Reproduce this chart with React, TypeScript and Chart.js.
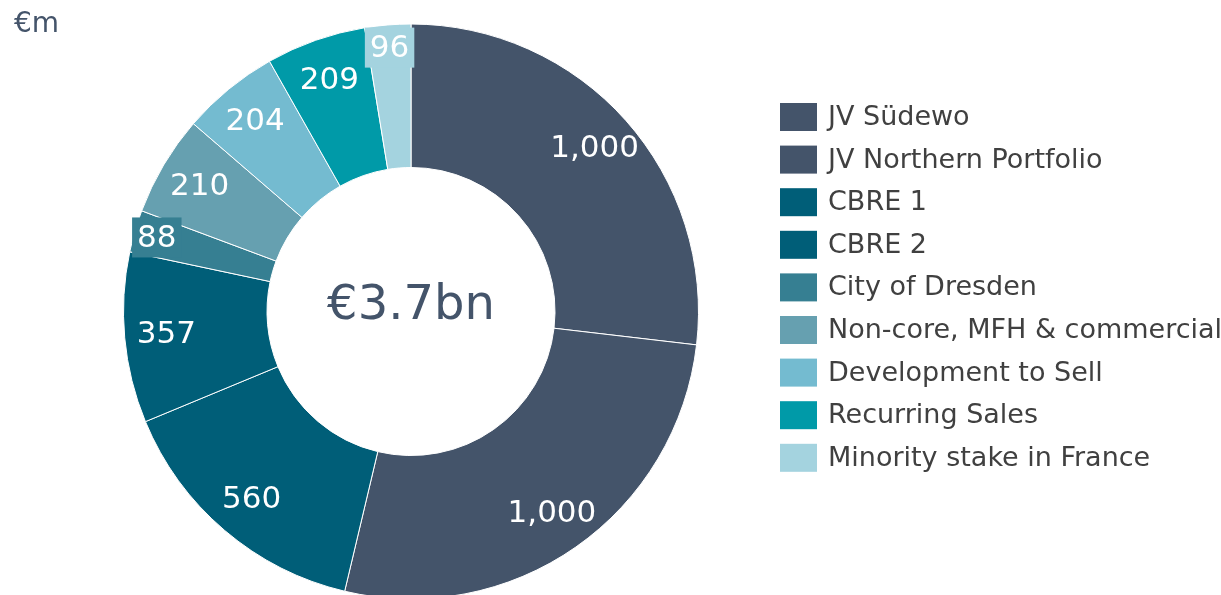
import React, { useEffect, useRef } from "react";
import { Chart, registerables } from "chart.js";

Chart.register(...registerables);

const categories = [
  "JV Südewo",
  "JV Northern Portfolio",
  "CBRE 1",
  "CBRE 2",
  "City of Dresden",
  "Non-core, MFH & commercial",
  "Development to Sell",
  "Recurring Sales",
  "Minority stake in France",
];
const values = [1000, 1000, 560, 357, 88, 210, 204, 209, 96];
const colors = [
  "#44546A",
  "#44546A",
  "#005E78",
  "#005E78",
  "#367F92",
  "#66A0B0",
  "#74BBD0",
  "#009AA8",
  "#A4D3DF",
];
const centerLabel = "€3.7bn";
const unitLabel = "€m";

const FONT = '"DejaVu Sans", Verdana, sans-serif';

const fmt = (v: number) => v.toLocaleString("en-US");

const overlayPlugin = {
  id: "overlay",
  afterDatasetsDraw(chart: any) {
    const ctx = chart.ctx;
    const meta = chart.getDatasetMeta(0);
    ctx.save();
    // slice labels
    meta.data.forEach((arc: any, i: number) => {
      const { startAngle, endAngle, innerRadius, outerRadius, x, y } = arc.getProps(
        ["startAngle", "endAngle", "innerRadius", "outerRadius", "x", "y"],
        true
      );
      const mid = (startAngle + endAngle) / 2;
      const small = values[i] < 100;
      const r = small ? (innerRadius + outerRadius) / 2 + 49 : (innerRadius + outerRadius) / 2 + 30;
      const lx = x + Math.cos(mid) * r;
      const ly = y + Math.sin(mid) * r;
      const text = fmt(values[i]);
      ctx.font = `31px ${FONT}`;
      ctx.textAlign = "center";
      ctx.textBaseline = "middle";
      if (small) {
        const w = ctx.measureText(text).width + 10;
        const h = 40;
        ctx.fillStyle = colors[i];
        ctx.fillRect(lx - w / 2, ly - h / 2, w, h);
      }
      ctx.fillStyle = "#FFFFFF";
      ctx.fillText(text, lx, ly + 1);
    });
    // center text
    const cx = (chart.chartArea.left + chart.chartArea.right) / 2;
    const cy = (chart.chartArea.top + chart.chartArea.bottom) / 2;
    ctx.font = `48px ${FONT}`;
    ctx.fillStyle = "#44546A";
    ctx.textAlign = "center";
    ctx.textBaseline = "middle";
    ctx.fillText(centerLabel, cx, cy - 5);
    // unit label
    ctx.font = `28px ${FONT}`;
    ctx.textAlign = "left";
    ctx.textBaseline = "alphabetic";
    ctx.fillText(unitLabel, 14, 32);
    // legend
    const lx0 = 780;
    const ly0 = 117;
    const step = 42.6;
    categories.forEach((c, i) => {
      const yy = ly0 + i * step;
      ctx.fillStyle = colors[i];
      ctx.fillRect(lx0, yy - 14, 37, 28);
      ctx.fillStyle = "#404040";
      ctx.font = `27px ${FONT}`;
      ctx.textAlign = "left";
      ctx.textBaseline = "middle";
      ctx.fillText(c, lx0 + 48, yy + 1);
    });
    ctx.restore();
  },
};

export default function App() {
  const ref = useRef<HTMLCanvasElement>(null);
  useEffect(() => {
    if (!ref.current) return;
    const chart = new Chart(ref.current, {
      type: "doughnut",
      data: {
        labels: categories,
        datasets: [
          {
            data: values,
            backgroundColor: colors,
            borderColor: "#FFFFFF",
            borderWidth: 1,
          },
        ],
      },
      options: {
        responsive: false,
        animation: false,
        radius: 287.5,
        cutout: 143.75,
        layout: { padding: { left: 123.5, right: 522.5, top: 24, bottom: 21 } },
        plugins: {
          legend: { display: false },
          tooltip: { enabled: false },
        },
      },
      plugins: [overlayPlugin],
    } as any);
    return () => chart.destroy();
  }, []);
  return (
    <div style={{ position: "absolute", left: 0, top: 0, width: 1221, height: 595, overflow: "hidden", background: "#fff" }}>
      <canvas ref={ref} width={1221} height={620} style={{ width: 1221, height: 620, display: "block" }} />
    </div>
  );
}
